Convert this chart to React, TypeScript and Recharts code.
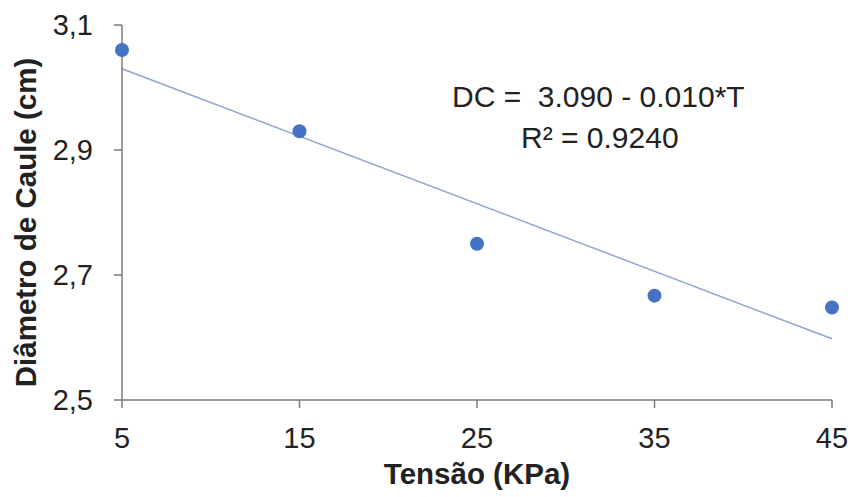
import React from "react";
import {
  ComposedChart,
  XAxis,
  YAxis,
  Scatter,
  Line,
} from "recharts";

// tensão (KPa)
const tensions = [5, 15, 25, 35, 45];
// observed stem diameter (cm)
const diameters = [3.06, 2.93, 2.75, 2.667, 2.648];
// fitted line, read at the two ends
const trendX = [5, 45];
const trendY = [3.03, 2.598];

const xTicks = [5, 15, 25, 35, 45];
const yTicks = [2.5, 2.7, 2.9, 3.1];

const rows = tensions.map((t, i) => {
  const k = trendX.indexOf(t);
  return { t, obs: diameters[i], trend: k >= 0 ? trendY[k] : null };
});

const FONT = "Arial, 'Liberation Sans', sans-serif";
const axisColor = "#7a7a7a";

const Dot = (props: any) => {
  const { cx, cy } = props;
  if (cx == null || cy == null) return null;
  return <circle cx={cx} cy={cy} r={7} fill="#4472C4" />;
};

export default function App() {
  return (
    <div style={{ position: "absolute", left: 0, top: 0, width: 852, height: 497, background: "#fff" }}>
      <ComposedChart
        width={852}
        height={497}
        data={rows}
        margin={{ top: 25, right: 20, bottom: 0, left: 0 }}
      >
        <XAxis
          type="number"
          dataKey="t"
          domain={[5, 45]}
          ticks={xTicks}
          tickSize={8}
          tickMargin={19}
          height={97}
          stroke={axisColor}
          strokeWidth={1.5}
          tick={{ fill: "#222", fontSize: 29, fontFamily: FONT }}
          label={{
            value: "Tensão (KPa)",
            position: "center",
            dy: 25,
            style: { fontSize: 29.5, fontWeight: "bold", fill: "#222", fontFamily: FONT },
          }}
        />
        <YAxis
          type="number"
          domain={[2.5, 3.1]}
          ticks={yTicks}
          width={122}
          tickSize={8}
          tickMargin={21}
          stroke={axisColor}
          strokeWidth={1.5}
          tickFormatter={(v: number) => v.toFixed(1).replace(".", ",")}
          tick={{ fill: "#222", fontSize: 29, fontFamily: FONT }}
          label={{
            value: "Diâmetro de Caule (cm)",
            angle: -90,
            position: "center",
            dx: -35,
            dy: 10,
            style: { fontSize: 29.5, fontWeight: "bold", fill: "#222", fontFamily: FONT, textAnchor: "middle" },
          }}
        />
        <Line
          dataKey="trend"
          stroke="#8ea2cf"
          strokeWidth={1.4}
          dot={false}
          activeDot={false}
          connectNulls
          isAnimationActive={false}
        />
        <Scatter dataKey="obs" shape={Dot} isAnimationActive={false} />
      </ComposedChart>
      <svg
        width={852}
        height={497}
        style={{ position: "absolute", left: 0, top: 0, pointerEvents: "none" }}
      >
        <text x={452} y={107} fontSize={30} fontFamily={FONT} fill="#222" xmlSpace="preserve">
          {"DC =  3.090 - 0.010*T"}
        </text>
        <text x={521} y={148} fontSize={30} fontFamily={FONT} fill="#222">
          {"R² = 0.9240"}
        </text>
      </svg>
    </div>
  );
}
